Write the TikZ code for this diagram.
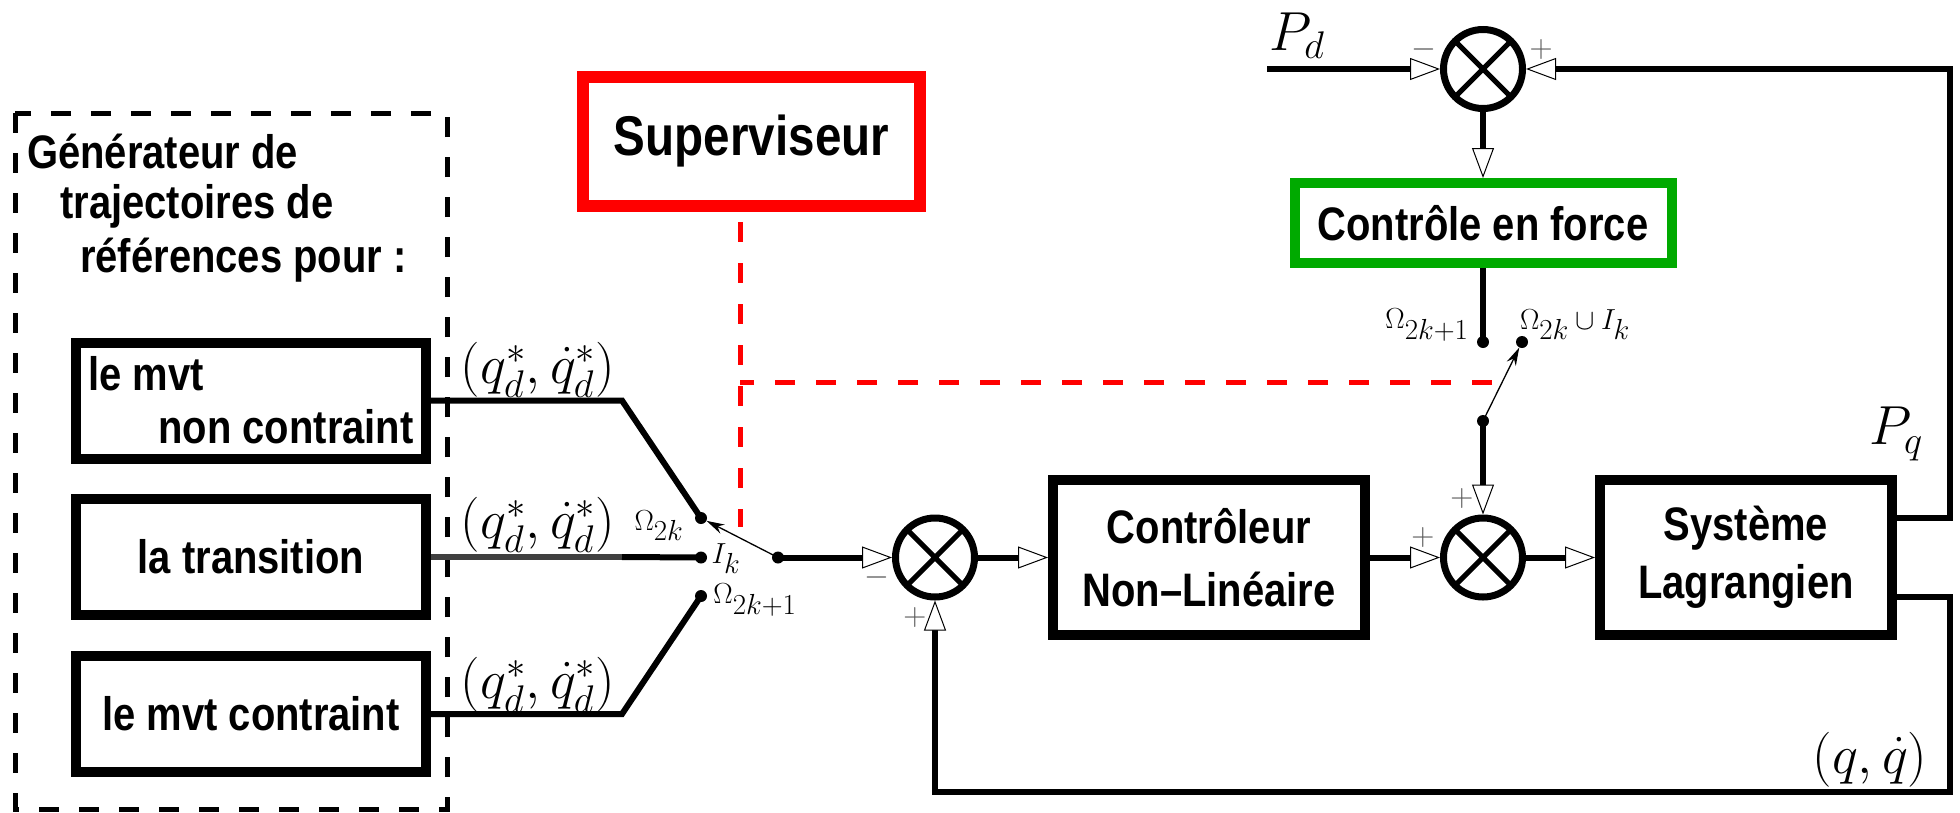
\documentclass[tikz,border=0pt]{standalone}
\usepackage{fix-cm}
\usepackage{fontspec}
\newfontfamily\narrowsf[FakeStretch=0.85]{Liberation Sans}
\usetikzlibrary{arrows.meta,calc}
\definecolor{myred}{RGB}{255,0,0}
\definecolor{mygreen}{RGB}{0,170,0}
\definecolor{lgray}{RGB}{64,64,64}
\begin{document}
\begin{tikzpicture}[x=1pt,y=-1pt,
  txt/.style={font=\narrowsf\bfseries\fontsize{47}{53}\selectfont},
  blk/.style={draw, line width=10pt, inner sep=0pt, txt},
  sumnode/.style={circle, draw, line width=7pt, minimum size=79pt, inner sep=0pt,
    path picture={\draw[line width=5pt] (path picture bounding box.north west) -- (path picture bounding box.south east)
      (path picture bounding box.north east) -- (path picture bounding box.south west);}},
  conn/.style={line width=6pt},
  oarr/.style={-{Triangle[length=30pt,width=22pt,line width=1pt,fill=white]}},
  thinarr/.style={line width=1.3pt, -{Stealth[length=18pt,width=10pt]}},
  dot/.style={circle, fill, inner sep=0pt, minimum size=12pt},
  mlab/.style={inner sep=0pt, font=\fontsize{55}{62}\selectfont},
  slab/.style={inner sep=0pt, font=\fontsize{29}{34}\selectfont},
  sgn/.style={inner sep=0pt, text=black!65, font=\fontsize{32}{36}\selectfont},
  reddash/.style={draw=myred, line width=5pt, dash pattern=on 20pt off 21pt}
]
\useasboundingbox (0,0) rectangle (1960,812);

% generator frame
\draw[line width=5pt, dash pattern=on 20pt off 20pt] (15,113) rectangle (447,809);
\node[txt, anchor=base west, inner sep=0pt] (g1) at (27,168) {Générateur de};
\node[txt, anchor=base west, inner sep=0pt] (g2) at (60,218) {trajectoires de};
\node[txt, anchor=base west, inner sep=0pt] (g3) at (80,272) {références pour :};

% blocks
\node[blk, align=left, minimum width=350pt, minimum height=116pt] (b1) at (251,400.5) {le mvt\\\hspace*{70pt}non contraint};
\node[blk, minimum width=350pt, minimum height=116pt] (b2) at (251,557) {la transition};
\node[blk, minimum width=350pt, minimum height=116pt] (b3) at (251,714) {le mvt contraint};
\node[blk, draw=myred, line width=12pt, minimum width=337pt, minimum height=129pt,
      font=\narrowsf\bfseries\fontsize{56}{60}\selectfont] (sup) at (751.5,141.5) {Superviseur};
\node[blk, draw=mygreen, minimum width=377pt, minimum height=80pt] (frc) at (1483,223) {Contrôle en force};
\node[blk, align=center, minimum width=312pt, minimum height=155pt,
      font=\narrowsf\bfseries\fontsize{47}{63}\selectfont] (ctl) at (1209,557.5) {Contrôleur\\Non–Linéaire};
\node[blk, align=center, minimum width=292pt, minimum height=155pt,
      font=\narrowsf\bfseries\fontsize{47}{58}\selectfont] (sys) at (1746,557.5) {Système\\Lagrangien};

% summing junctions
\node[sumnode] (s1) at (935,557.5) {};
\node[sumnode] (s2) at (1483,557.5) {};
\node[sumnode] (s3) at (1483,69) {};

% switch dots
\node[dot] (o2k) at (701,518) {};
\node[dot] (ik) at (701,557.5) {};
\node[dot] (o2k1) at (701,596) {};
\node[dot] (piv) at (778,557.5) {};
\node[dot] (fo) at (1483,342) {};
\node[dot] (fu) at (1522,342) {};
\node[dot] (piv2) at (1483,421) {};

% helper coordinates
\coordinate (k1) at (622,400.5);
\coordinate (k2) at (622,557);
\coordinate (k3) at (622,714);
\coordinate (pd) at (1267,69);
\coordinate (rtop) at (1950,69);
\coordinate (rbot) at (1950,792);
\coordinate (rv1) at (740,222);
\coordinate (rv2) at (740,527);
\coordinate (rh1) at (1492,382);
\coordinate (rh2) at (740,382);

% connectors
\draw[conn] (b1.east) -- (k1) -- (o2k.center);
\draw[conn, draw=lgray] (b2.east) -- (k2);
\draw[conn] (k2) -- (ik.center);
\draw[conn] (b3.east) -- (k3) -- (o2k1.center);
\draw[thinarr] (piv.center) -- (o2k);
\draw[conn, oarr] (piv.center) -- (s1.west);
\draw[conn, oarr] (s1.east) -- (ctl.west);
\draw[conn, oarr] (ctl.east) -- (s2.west);
\draw[conn, oarr] (s2.east) -- (sys.west);
\draw[conn, oarr] ([yshift=39.5pt]sys.east) -| (rtop) -- (s3.east);
\draw[conn, oarr] ([yshift=-39.5pt]sys.east) -| (rbot) -| (s1.south);
\draw[conn, oarr] (pd) -- (s3.west);
\draw[conn, oarr] (s3.south) -- (frc.north);
\draw[conn] (frc.south) -- (fo.center);
\draw[conn, oarr] (piv2.center) -- (s2.north);
\draw[thinarr] (piv2.center) -- (fu);

% supervisor links
\draw[reddash] (rv1) -- (rv2);
\draw[reddash] (rh1) -- (rh2);

% labels
\node[mlab] (l1) at (538,370) {$(q^*_d,\dot q^*_d)$};
\node[mlab] (l2) at (538,525) {$(q^*_d,\dot q^*_d)$};
\node[mlab] (l3) at (538,685) {$(q^*_d,\dot q^*_d)$};
\node[slab] (lo2k) at (659,526) {$\Omega_{\textstyle 2k}$};
\node[slab] (lik) at (726,559) {$I_{\textstyle k}$};
\node[slab] (lo2k1) at (755,600) {$\Omega_{\textstyle 2k{+}1}$};
\node[slab] (lfo) at (1427,325) {$\Omega_{\textstyle 2k{+}1}$};
\node[slab] (lfu) at (1575,325) {$\Omega_{\textstyle 2k}\cup I_{\textstyle k}$};
\node[mlab] (lpd) at (1297,36) {$P_d$};
\node[mlab] (lpq) at (1896,434) {$P_q$};
\node[mlab] (lqq) at (1870,760) {$(q,\dot q)$};

% signs
\node[sgn] (m1) at (877,577) {$-$};
\node[sgn] (p1) at (915,617) {$+$};
\node[sgn] (p2) at (1423,537) {$+$};
\node[sgn] (p3) at (1462,498) {$+$};
\node[sgn] (m3) at (1424,49) {$-$};
\node[sgn] (p4) at (1541,49) {$+$};
\end{tikzpicture}
\end{document}
